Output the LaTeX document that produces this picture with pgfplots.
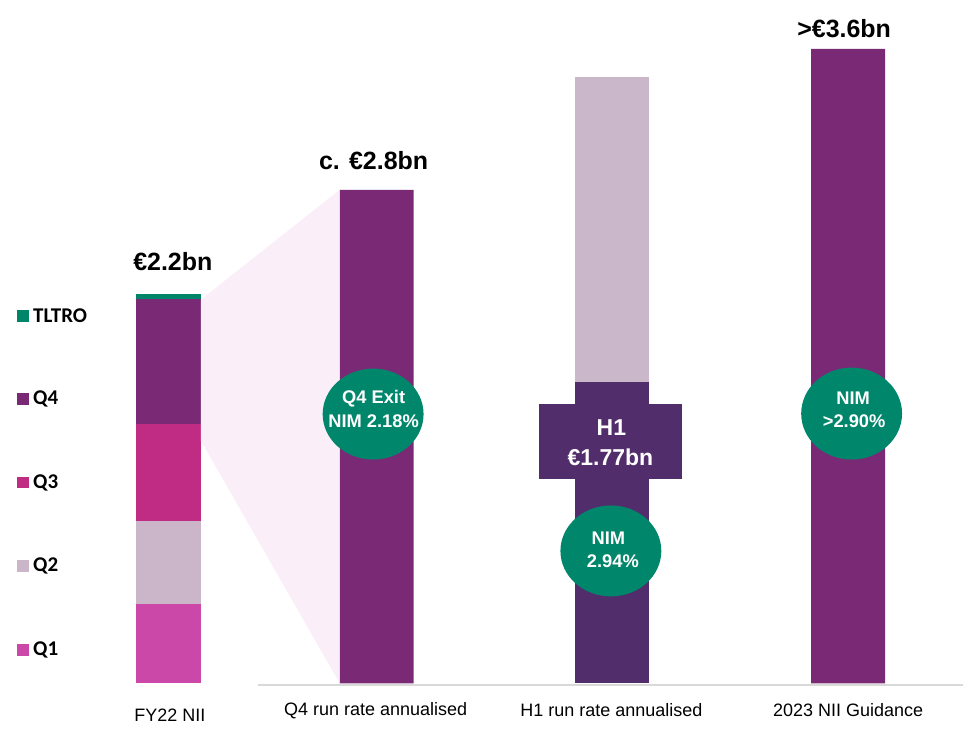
\documentclass[border=0pt]{standalone}
\usepackage{fontspec}
\setmainfont{Liberation Sans}
\newfontfamily\calibri{Carlito}
\usepackage{pgfplots}
\pgfplotsset{compat=1.18}
\usetikzlibrary{shapes.geometric}
\definecolor{cQone}{HTML}{CB47A8}
\definecolor{cQtwo}{HTML}{CBB6C9}
\definecolor{cQthree}{HTML}{C02B83}
\definecolor{cQfour}{HTML}{7A2A75}
\definecolor{cTLTRO}{HTML}{008569}
\definecolor{cRun}{HTML}{7A2A75}
\definecolor{cHdark}{HTML}{522D6C}
\definecolor{cHlight}{HTML}{CAB7CA}
\definecolor{cNim}{HTML}{00866B}
\definecolor{cPale}{HTML}{FAEEF8}
\definecolor{cAxis}{HTML}{D9D9D9}
\tikzset{
  nimtxt/.style={font=\fontsize{18.3}{21}\selectfont\bfseries, text=white, inner sep=0pt},
  tot/.style={font=\fontsize{25}{28}\selectfont\bfseries, text=black, inner sep=0pt},
  cat/.style={font=\fontsize{18}{21}\selectfont, text=black, inner sep=0pt},
  leg/.style={font=\calibri\fontsize{21}{24}\selectfont\bfseries, text=black, inner sep=0pt, anchor=west},
}
\pgfplotsset{
  base/.style={
    scale only axis, width=964pt, height=731pt,
    xmin=0, xmax=964, ymin=-0.26644, ymax=3.87755,
    hide axis, clip=false,
  },
}
\begin{document}
\begin{tikzpicture}
\begin{axis}[
  base,
  ybar stacked, bar width=74,
  every axis plot/.append style={draw=none},
]
\path (rel axis cs:0,0) rectangle (rel axis cs:1,1);
\fill[cPale] (axis cs:201,{(684-300)/176.4}) -- (axis cs:340,{(684-190)/176.4}) -- (axis cs:340,0) -- (axis cs:201,{(684-441)/176.4}) -- cycle;
% FY22 stacked (bn)
\addplot[fill=cQone, bar width=65] coordinates {(168.5,0.45) (377,0) (613,0) (849,0)};
\addplot[fill=cQtwo, bar width=65] coordinates {(168.5,0.47) (377,0) (613,0) (849,0)};
\addplot[fill=cQthree, bar width=65] coordinates {(168.5,0.55) (377,0) (613,0) (849,0)};
\addplot[fill=cQfour, bar width=65] coordinates {(168.5,0.71) (377,0) (613,0) (849,0)};
\addplot[fill=cTLTRO, bar width=65] coordinates {(168.5,0.03) (377,0) (613,0) (849,0)};
% run rates and guidance
\addplot[fill=cRun] coordinates {(168.5,0) (377,2.80) (613,0) (849,3.60)};
\addplot[fill=cHdark] coordinates {(168.5,0) (377,0) (613,1.71) (849,0)};
\addplot[fill=cHlight] coordinates {(168.5,0) (377,0) (613,1.73) (849,0)};
\end{axis}
\begin{axis}[base]
\path (rel axis cs:0,0) rectangle (rel axis cs:1,1);
% baseline
\draw[cAxis, line width=2pt] (axis cs:258,{-2/176.4}) -- (axis cs:964,{-2/176.4});
% H1 box
\fill[cHdark] (axis cs:540,{(684-404)/176.4}) rectangle (axis cs:683,{(684-479)/176.4});
\node[font=\fontsize{23}{26}\selectfont\bfseries, text=white] at (axis cs:612,{(684-428.5)/176.4}) {H1};
\node[font=\fontsize{23}{26}\selectfont\bfseries, text=white] at (axis cs:611,{(684-457.5)/176.4}) {€1.77bn};
% NIM ellipses
\node[ellipse, fill=cNim, minimum width=101pt, minimum height=91pt, inner sep=0pt] at (axis cs:373.5,{(684-414.5)/176.4}) {};
\node[ellipse, fill=cNim, minimum width=101pt, minimum height=91pt, inner sep=0pt] at (axis cs:611.5,{(684-551.5)/176.4}) {};
\node[ellipse, fill=cNim, minimum width=101pt, minimum height=92pt, inner sep=0pt] at (axis cs:852.5,{(684-414)/176.4}) {};
\node[nimtxt] at (axis cs:374,{(684-399)/176.4}) {Q4 Exit};
\node[nimtxt] at (axis cs:374,{(684-421.5)/176.4}) {NIM 2.18\%};
\node[nimtxt] at (axis cs:609,{(684-539)/176.4}) {NIM};
\node[nimtxt] at (axis cs:613.5,{(684-562)/176.4}) {2.94\%};
\node[nimtxt] at (axis cs:854,{(684-398.5)/176.4}) {NIM};
\node[nimtxt] at (axis cs:855,{(684-421.5)/176.4}) {>2.90\%};
% totals
\node[tot] at (axis cs:173,{(684-262)/176.4}) {€2.2bn};
\node[tot] at (axis cs:374,{(684-160.5)/176.4}) {c. €2.8bn};
\node[tot] at (axis cs:845,{(684-28.5)/176.4}) {>€3.6bn};
% category labels
\node[cat] at (axis cs:170,{(684-716)/176.4}) {FY22 NII};
\node[cat] at (axis cs:376,{(684-711)/176.4}) {Q4 run rate annualised};
\node[cat] at (axis cs:612,{(684-711)/176.4}) {H1 run rate annualised};
\node[cat] at (axis cs:849,{(684-711)/176.4}) {2023 NII Guidance};
% legend
\fill[cTLTRO] (axis cs:17,{(684-310)/176.4}) rectangle (axis cs:29,{(684-322)/176.4});
\node[leg] at (axis cs:33,{(684-316)/176.4}) {TLTRO};
\fill[cQfour] (axis cs:17,{(684-393)/176.4}) rectangle (axis cs:29,{(684-405)/176.4});
\node[leg] at (axis cs:33,{(684-399)/176.4}) {Q4};
\fill[cQthree] (axis cs:17,{(684-477)/176.4}) rectangle (axis cs:29,{(684-489)/176.4});
\node[leg] at (axis cs:33,{(684-483)/176.4}) {Q3};
\fill[cQtwo] (axis cs:17,{(684-561)/176.4}) rectangle (axis cs:29,{(684-573)/176.4});
\node[leg] at (axis cs:33,{(684-567)/176.4}) {Q2};
\fill[cQone] (axis cs:17,{(684-645)/176.4}) rectangle (axis cs:29,{(684-657)/176.4});
\node[leg] at (axis cs:33,{(684-651)/176.4}) {Q1};
\end{axis}
\end{tikzpicture}
\end{document}
